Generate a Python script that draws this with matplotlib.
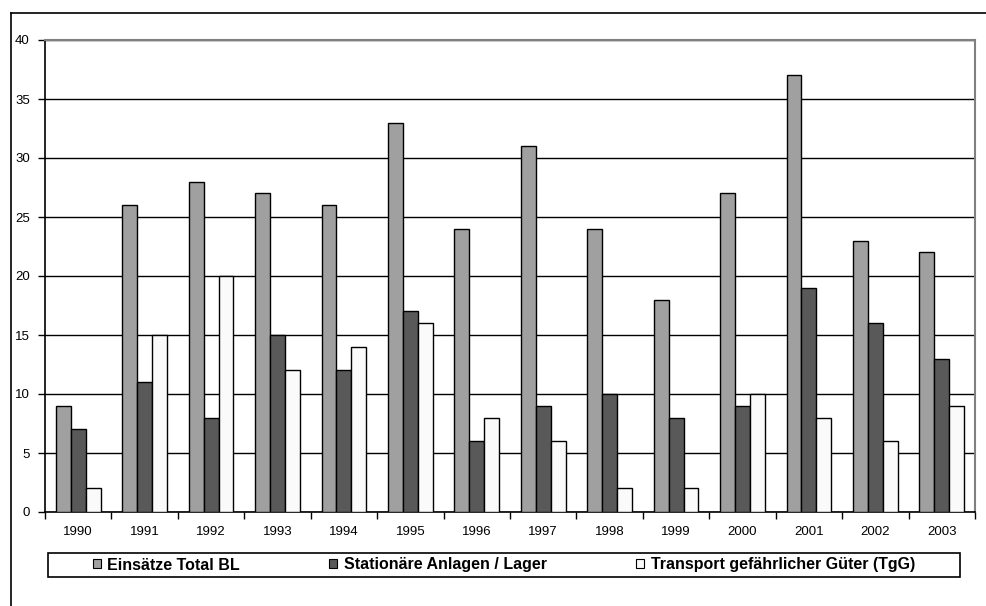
import matplotlib
matplotlib.use("Agg")
import matplotlib.pyplot as plt
import numpy as np
from matplotlib.lines import Line2D
from matplotlib.patches import Rectangle

plt.rcParams['font.family'] = ['Liberation Sans', 'DejaVu Sans']

years = ["1990", "1991", "1992", "1993", "1994", "1995", "1996", "1997",
         "1998", "1999", "2000", "2001", "2002", "2003"]
einsaetze = [9, 26, 28, 27, 26, 33, 24, 31, 24, 18, 27, 37, 23, 22]
stationaer = [7, 11, 8, 15, 12, 17, 6, 9, 10, 8, 9, 19, 16, 13]
transport = [2, 15, 20, 12, 14, 16, 8, 6, 2, 2, 10, 8, 6, 9]
series_names = ["Einsätze Total BL", "Stationäre Anlagen / Lager",
                "Transport gefährlicher Güter (TgG)"]
colors = ["#a0a0a0", "#595959", "#fafafa"]

W, H = 987, 606
fig = plt.figure(figsize=(W / 100, H / 100), dpi=100)
ax = fig.add_axes([45 / W, 1 - 512 / H, 930 / W, 472 / H])

x = np.arange(len(years))
bw = 0.225
handles = []
for i, (vals, c, name) in enumerate(zip([einsaetze, stationaer, transport], colors, series_names)):
    b = ax.bar(x + (i - 1) * bw, vals, width=bw, color=c, edgecolor="black",
               linewidth=1.0, label=name, zorder=3)
    handles.append(b)

ax.set_xlim(-0.5, len(years) - 0.5)
ax.set_ylim(0, 40)
ax.set_yticks(np.arange(0, 41, 5))
ax.yaxis.grid(True, color="black", linewidth=1.0, zorder=0)
ax.set_axisbelow(True)

ax.set_xticks(np.arange(-0.5, len(years), 1))
ax.set_xticklabels([])
ax.set_xticks(x, minor=True)
ax.set_xticklabels(years, minor=True)
ax.tick_params(axis="x", which="major", length=5, width=1, direction="out", color="black")
ax.tick_params(axis="x", which="minor", length=0, pad=10, labelsize=9.5)
ax.tick_params(axis="y", length=5, width=1, direction="out", labelsize=9.5, pad=6)

for s in ["left", "bottom"]:
    ax.spines[s].set_color("black")
    ax.spines[s].set_linewidth(1.2)
for s in ["top", "right"]:
    ax.spines[s].set_color("#808080")
    ax.spines[s].set_linewidth(1.5)

# legend frame
fig.add_artist(Rectangle((48 / W, 1 - 577 / H), 912 / W, 24 / H,
                         transform=fig.transFigure, facecolor="white",
                         edgecolor="black", linewidth=1.2, zorder=1))
leg = fig.legend(handles=handles, labels=series_names, loc="center",
                 bbox_to_anchor=(504 / W, 1 - 565 / H),
                 ncol=3, frameon=False, borderaxespad=0, handlelength=0.5,
                 handleheight=0.5, handletextpad=0.4, columnspacing=5.6,
                 borderpad=0.0, prop={"weight": "bold", "size": 11.5})
leg.set_zorder(2)
for h in leg.legend_handles:
    h.set_linewidth(0.8)

# outer chart border (cropped at right and bottom)
fig.add_artist(Line2D([11 / W, 11 / W], [0, 1 - 13 / H], transform=fig.transFigure,
                      color="black", linewidth=1.2))
fig.add_artist(Line2D([11 / W, 1], [1 - 13 / H, 1 - 13 / H], transform=fig.transFigure,
                      color="black", linewidth=1.2))

fig.savefig("out.png", dpi=100)
